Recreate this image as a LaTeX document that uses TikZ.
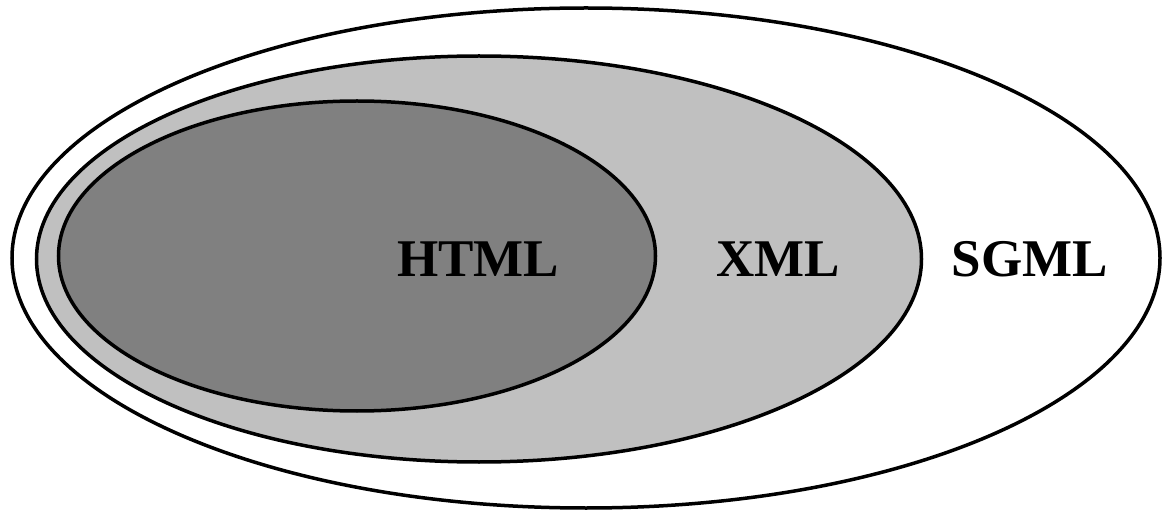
\documentclass[tikz,border=0pt]{standalone}
\usepackage{fontspec}
\setmainfont{Liberation Serif}
\begin{document}
\begin{tikzpicture}[x=1pt,y=-1pt,
  ring/.style={draw=black,line width=3.5pt},
  lbl/.style={font=\fontsize{53}{60}\selectfont\bfseries,anchor=base,inner sep=0pt}]
\useasboundingbox (0,0) rectangle (1163,513);
\path[ring,fill=white] (586,258) ellipse [x radius=574, y radius=250];
\path[ring,fill={rgb,255:red,192;green,192;blue,192}] (479,259) ellipse [x radius=442.5, y radius=203];
\path[ring,fill={rgb,255:red,128;green,128;blue,128}] (357,256) ellipse [x radius=298.5, y radius=155];
\node[lbl] (html) at (478,277) {HTML};
\node[lbl] (xml) at (778,277) {XML};
\node[lbl] (sgml) at (1030,277) {SGML};
\end{tikzpicture}
\end{document}
